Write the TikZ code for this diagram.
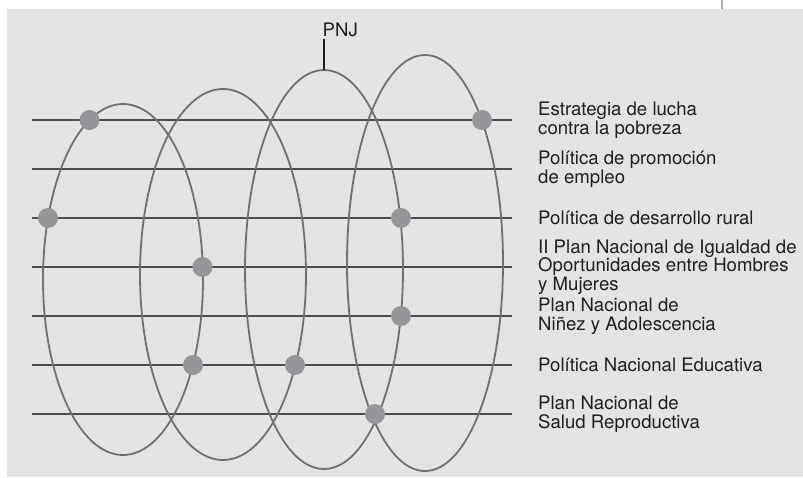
\documentclass[tikz,border=0pt]{standalone}
\usepackage{fontspec}
\setmainfont{TeX Gyre Heros}
\usepackage{xcolor}
\usepackage{tikz}
\usetikzlibrary{calc}
\definecolor{panel}{HTML}{E4E4E4}
\definecolor{ringgray}{HTML}{707070}
\definecolor{dotgray}{HTML}{96969A}
\definecolor{ink}{HTML}{1E1E1E}

\begin{document}
\begin{tikzpicture}
    [%%%%%%%%%%%%%%%%%%%%%%%%%%%%%%
        x=1pt,y=-1pt,
        dot/.style={circle,fill=dotgray,inner sep=0pt,minimum size=20pt},
        ring/.style={draw=ringgray,line width=1.8pt},
        policy/.style={draw=black!70,line width=1.1pt},
        label/.style={anchor=west,align=left,inner sep=0pt,text=ink,
            font=\fontsize{18.6}{18.5}\selectfont},
    ]%%%%%%%%%%%%%%%%%%%%%%%%%%%%%%

\useasboundingbox (0,0) rectangle (803,477);
\fill[panel] (7,9) rectangle (803,477);
\draw[black!30,line width=2pt] (722,0) -- (722,9);

% policy lines
\foreach \i/\y in {1/120,2/169,3/218,4/267,5/316,6/365,7/414}{
	\coordinate (l\i) at (32,\y);
	\coordinate (r\i) at (512,\y);
	\draw[policy] (l\i) -- (r\i);
}

% the four rings
\draw[ring] (123,279.5) ellipse [x radius=80pt, y radius=175.5pt];
\draw[ring] (223,274.5) ellipse [x radius=83pt, y radius=185.5pt];
\draw[ring] (324,269.5) ellipse [x radius=79pt, y radius=199.5pt];
\draw[ring] (425,263) ellipse [x radius=78pt, y radius=208pt];

% PNJ
\coordinate (top3) at (324,70);
\coordinate (tick) at (324,39);
\node[anchor=base west,inner sep=0pt,text=ink,
      font=\fontsize{18.6}{18.6}\selectfont] (pnj) at (322.5,36) {PNJ};
\draw[ink,line width=2pt] (top3) -- (tick);

% dots
\node[dot] (d1) at (89.5,120) {};
\node[dot] (d2) at (482,120) {};
\node[dot] (d3) at (48,218) {};
\node[dot] (d4) at (401,218) {};
\node[dot] (d5) at (202.5,267) {};
\node[dot] (d6) at (401,316) {};
\node[dot] (d7) at (193,365) {};
\node[dot] (d8) at (295,365) {};
\node[dot] (d9) at (375,414) {};
%\node[dot] at (371,414) {};

% labels
\node[label] (t1) at ($(r1)+(26,0)$) {Estrategia de lucha\\contra la pobreza};
\node[label] (t2) at ($(r2)+(26,0)$) {Política de promoción\\de empleo};
\node[label] (t3) at ($(r3)+(26,0)$) {Política de desarrollo rural};
\node[label] (t4) at ($(r4)+(26,0)$) {II Plan Nacional de Igualdad de\\Oportunidades entre Hombres\\y Mujeres};
\node[label] (t5) at ($(r5)+(26,0)$) {Plan Nacional de\\Niñez y Adolescencia};
\node[label] (t6) at ($(r6)+(26,0)$) {Política Nacional Educativa};
\node[label] (t7) at ($(r7)+(26,0)$) {Plan Nacional de\\Salud Reproductiva};

\end{tikzpicture}
\end{document}
